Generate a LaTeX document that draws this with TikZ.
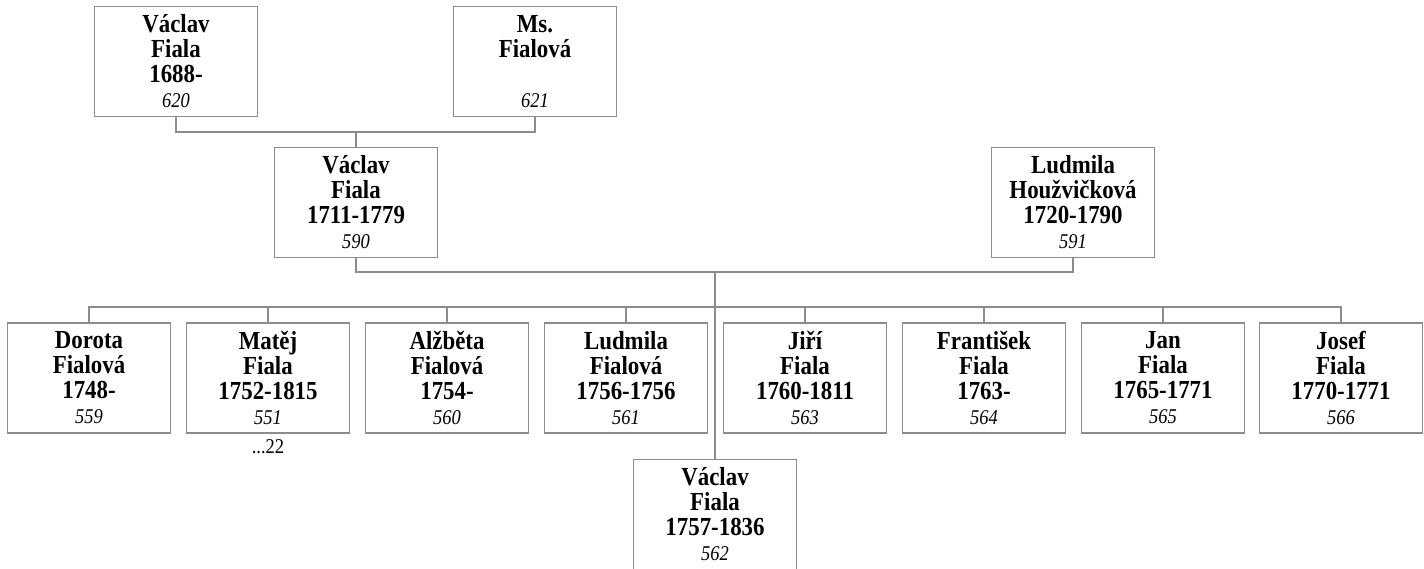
\documentclass[tikz,border=0pt]{standalone}
\usepackage{fontspec}
\setmainfont{Liberation Serif}[FakeStretch=0.88]
\usetikzlibrary{positioning}
\definecolor{linegray}{RGB}{140,140,140}
\tikzset{
  person/.style={draw=linegray,line width=1.2pt,minimum width=163pt,
    minimum height=110pt,inner sep=0pt,align=center,
    font=\fontsize{26}{25}\selectfont\bfseries},
  link/.style={draw=linegray,line width=1.2pt}
}
\newcommand{\pnum}[1]{{\fontsize{21}{24}\selectfont\mdseries\itshape #1}}
\begin{document}
\begin{tikzpicture}[x=1pt,y=-1pt]
  \useasboundingbox (0,0) rectangle (1424,569);
  % grandparents
  \node[person] (p620) at (176,61.5) {Václav\\Fiala\\1688-\\\pnum{620}};
  \node[person] (p621) at (535,61.5) {Ms.\\Fialová\\\mbox{}\\\pnum{621}};
  % parents
  \node[person] (p590) at (356,202.5) {Václav\\Fiala\\1711-1779\\\pnum{590}};
  \node[person] (p591) at (1073,202.5) {Ludmila\\Houžvičková\\1720-1790\\\pnum{591}};
  % children
  \node[person] (k559) at (89,378) {Dorota\\Fialová\\1748-\\\pnum{559}};
  \node[person] (k551) at (268,378) {Matěj\\Fiala\\1752-1815\\\pnum{551}};
  \node[person] (k560) at (447,378) {Alžběta\\Fialová\\1754-\\\pnum{560}};
  \node[person] (k561) at (626,378) {Ludmila\\Fialová\\1756-1756\\\pnum{561}};
  \node[person] (k563) at (805,378) {Jiří\\Fiala\\1760-1811\\\pnum{563}};
  \node[person] (k564) at (984,378) {František\\Fiala\\1763-\\\pnum{564}};
  \node[person] (k565) at (1163,378) {Jan\\Fiala\\1765-1771\\\pnum{565}};
  \node[person] (k566) at (1341,378) {Josef\\Fiala\\1770-1771\\\pnum{566}};
  \node[person] (k562) at (715,514.5) {Václav\\Fiala\\1757-1836\\\pnum{562}};
  \node[below=2pt of k551,font=\fontsize{21}{22}\selectfont] (more551) {...22};
  % junctions
  \coordinate (j1) at (356,132);
  \coordinate (j2) at (715,272);
  \coordinate (jbar) at (715,307);
  \draw[link] (p620.south) |- (j1) -| (p621.south);
  \draw[link] (j1) -- (p590.north);
  \draw[link] (p590.south) |- (j2) -| (p591.south);
  \draw[link] (j2) -- (k562.north);
  \draw[link] (k559.north) |- (jbar) -| (k566.north);
  \foreach \k in {k551,k560,k561,k563,k564,k565}
    \draw[link] (\k.north) -- (\k.north |- jbar);
\end{tikzpicture}
\end{document}
